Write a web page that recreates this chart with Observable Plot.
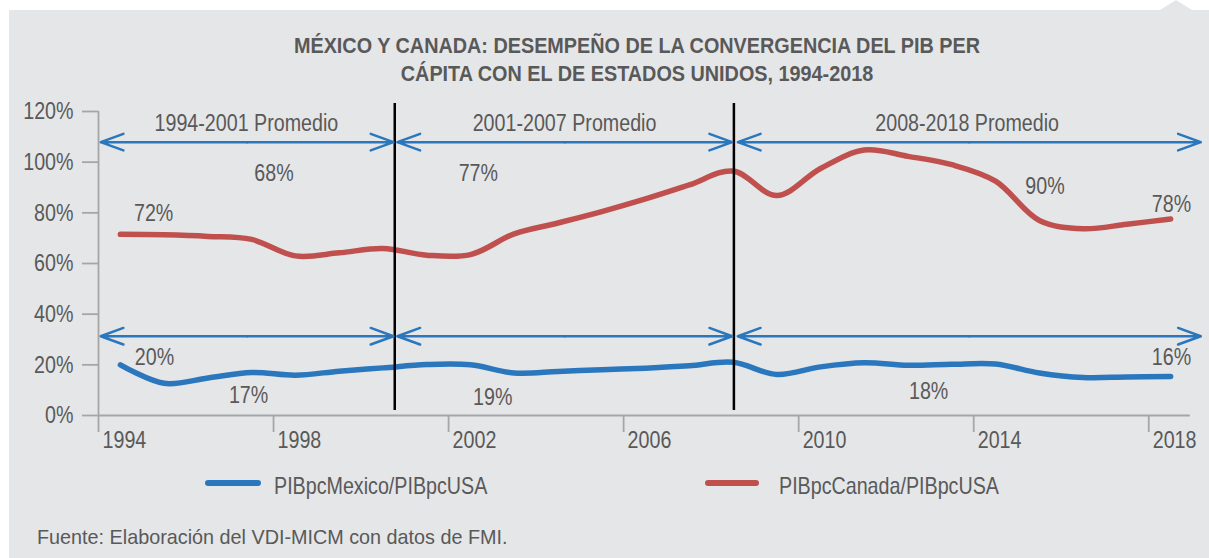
<!DOCTYPE html>
<html>
<head>
<meta charset="utf-8">
<script src="https://cdn.jsdelivr.net/npm/d3@7"></script>
<script src="https://cdn.jsdelivr.net/npm/@observablehq/plot@0.6"></script>
<style>
  body { margin: 0; background: #fff; }
  #wrap { position: relative; width: 1209px; height: 558px; overflow: hidden;
          font-family: 'Liberation Sans', Arial, sans-serif; color: #595959; }
  #panel { position: absolute; left: 9px; top: 10px; right: 0; bottom: 0; background: #e5e6e8; }
  #tab { position: absolute; left: 1160px; top: 0; width: 0; height: 0;
         border-left: 16px solid transparent; border-right: 16px solid transparent; border-bottom: 10px solid #e5e6e8; }
  #title { position: absolute; left: 137px; width: 1000px; top: 32px; text-align: center;
           font-weight: bold; font-size: 22px; line-height: 27.5px; color: #595959;
           transform: scaleX(0.9); transform-origin: 500px 0; }
  #chart { position: absolute; left: 0; top: 90px; }
  .lg-line { position: absolute; height: 6px; border-radius: 3px; top: 480px; }
  .lg-text { position: absolute; top: 472px; font-size: 24px; line-height: 28px; color: #595959; white-space: nowrap;
             transform: scaleX(0.82); transform-origin: 0 0; }
  #caption { position: absolute; left: 37px; top: 525px; font-family: 'Liberation Sans', Arial, sans-serif;
             font-size: 19.8px; line-height: 24px; color: #595959; white-space: nowrap; }
</style>
</head>
<body>
<div id="wrap">
  <div id="panel"></div>
  <div id="tab"></div>
  <div id="title">MÉXICO Y CANADA: DESEMPEÑO DE LA CONVERGENCIA DEL PIB PER<br>CÁPITA CON EL DE ESTADOS UNIDOS, 1994-2018</div>
  <div id="chart"></div>
  <div id="legend"></div>
  <div id="caption">Fuente: Elaboración del VDI-MICM con datos de FMI.</div>
</div>
<script>
// ---- data ----
const years = [1994,1995,1996,1997,1998,1999,2000,2001,2002,2003,2004,2005,2006,2007,2008,2009,2010,2011,2012,2013,2014,2015,2016,2017,2018];
const mexico = [20.0,12.7,14.8,17.0,15.9,17.5,18.8,20.1,20.0,16.8,17.4,18.1,18.7,19.6,21.0,16.2,19.2,20.8,19.8,20.2,20.3,16.8,15.0,15.2,15.4];
const canada = [71.5,71.3,70.7,69.5,63.0,64.2,65.9,63.3,63.5,71.7,76.0,80.5,85.5,91.0,96.5,86.8,97.5,104.8,102.3,99.0,92.5,77.0,73.7,75.5,77.6];
const seriesNames = ["PIBpcMexico/PIBpcUSA", "PIBpcCanada/PIBpcUSA"];
const seriesColors = ["#2a77be", "#c0504d"];

const periodLabels = ["1994-2001 Promedio", "2001-2007 Promedio", "2008-2018 Promedio"];
const periodLabelX = [1996.88, 2004.15, 2013.35];
const periodStart = [1993.55, 2000.33, 2008.11];
const periodEnd = [2000.24, 2007.98, 2018.69];
const arrowLevels = [107.9, 31.3];
const dividers = [2000.27, 2008.02];

const valueLabels = ["72%", "68%", "77%", "90%", "78%", "20%", "17%", "19%", "18%", "16%"];
const valueLabelX = [1994.76, 1997.51, 2002.18, 2015.13, 2018.02, 1994.78, 1996.93, 2002.51, 2012.47, 2018.02];
const valueLabelY = [79.9, 95.5, 95.7, 90.4, 83.2, 23.0, 7.9, 7.1, 9.6, 23.0];

const yTicks = [0, 20, 40, 60, 80, 100, 120];
const xTickLabels = [1994, 1998, 2002, 2006, 2010, 2014, 2018];
const xTickMarks = [1993.5, 1997.5, 2001.5, 2005.5, 2009.5, 2013.5, 2017.5];

// ---- derived tables ----
const rows = [];
years.forEach((yr, i) => {
  rows.push({year: yr, value: mexico[i], series: seriesNames[0]});
  rows.push({year: yr, value: canada[i], series: seriesNames[1]});
});
const arrows = [];
arrowLevels.forEach(lv => {
  periodStart.forEach((s, i) => {
    const mid = (s + periodEnd[i]) / 2;
    arrows.push({x1: mid, x2: s, y: lv});
    arrows.push({x1: mid, x2: periodEnd[i], y: lv});
  });
});
const periods = periodLabels.map((t, i) => ({text: t, x: periodLabelX[i]}));
const vlabels = valueLabels.map((t, i) => ({text: t, x: valueLabelX[i], y: valueLabelY[i]}));

const axisColor = "#a6a6a6";
const textColor = "#595959";

const chart = Plot.plot({
  width: 1209,
  height: 375,
  marginLeft: 98,
  marginRight: 17,
  marginTop: 21,
  marginBottom: 50,
  style: {
    background: "transparent",
    fontFamily: "'Liberation Sans', Arial, sans-serif",
    fontSize: "24px",
    color: textColor,
    overflow: "visible"
  },
  x: {domain: [1993.5, 2018.5]},
  y: {domain: [0, 120]},
  color: {domain: seriesNames, range: seriesColors},
  marks: [
    Plot.ruleY([0], {x1: 1993.5, x2: 2018.45, stroke: axisColor, strokeWidth: 1.8}),
    Plot.ruleX([1993.5], {y1: 0, y2: 120, stroke: axisColor, strokeWidth: 1.8}),
    Plot.axisY({ticks: yTicks, tickSize: 16, tickPadding: 9, tickFormat: d => d + "%",
                stroke: axisColor, strokeWidth: 1.8, fill: textColor, fontSize: 24}),
    Plot.axisX({ticks: xTickMarks, tickSize: 17, tickFormat: () => "", stroke: axisColor, strokeWidth: 1.8}),
    Plot.text(xTickLabels, {x: d => d, y: 0, text: d => String(d), dy: 25, dx: 4,
                            fontSize: 24, fill: textColor, lineAnchor: "middle"}),
    Plot.line(rows, {x: "year", y: "value", z: "series", stroke: "series", strokeWidth: 5.5,
                     curve: "catmull-rom", strokeLinecap: "round", strokeLinejoin: "round"}),
    Plot.ruleX(dividers, {y1: 123.2, y2: 2.0, stroke: "#000", strokeWidth: 2.5}),
    Plot.arrow(arrows, {x1: "x1", x2: "x2", y1: "y", y2: "y", stroke: seriesColors[0],
                        strokeWidth: 2.5, headLength: 14.5, headAngle: 40}),
    Plot.text(periods, {x: "x", y: 115.3, text: "text", fontSize: 24, fill: textColor, lineAnchor: "middle"}),
    Plot.text(vlabels, {x: "x", y: "y", text: "text", fontSize: 24, fill: textColor, lineAnchor: "middle"})
  ]
});
document.getElementById("chart").appendChild(chart);

// condense the SVG text horizontally around each label's own anchor point (narrow face look)
d3.select(chart).selectAll("text").each(function() {
  const xa = this.getAttribute("x");
  const x = xa && !/em$/.test(xa) ? parseFloat(xa) || 0 : 0;
  const t = this.getAttribute("transform") || "";
  this.setAttribute("transform", `${t} translate(${x},0) scale(0.82,1) translate(${-x},0)`.trim());
});

// ---- legend ----
const legend = document.getElementById("legend");
const lgLine = [[205, 56], [705, 54]];
const lgText = [274, 779];
seriesNames.forEach((name, i) => {
  const l = document.createElement("div");
  l.className = "lg-line";
  l.style.left = lgLine[i][0] + "px";
  l.style.width = lgLine[i][1] + "px";
  l.style.background = seriesColors[i];
  legend.appendChild(l);
  const t = document.createElement("div");
  t.className = "lg-text";
  t.style.left = lgText[i] + "px";
  t.textContent = name;
  legend.appendChild(t);
});
</script>
</body>
</html>
